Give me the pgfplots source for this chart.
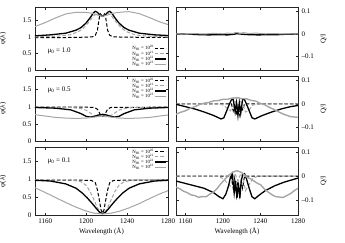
\documentclass[border=0pt]{standalone}
\usepackage{pgfplots}
\pgfplotsset{compat=1.18}
\usepackage{fontspec}
\setmainfont{Liberation Serif}
\definecolor{lg}{RGB}{165,165,165}
\pgfplotsset{
 base/.style={scale only axis, xmin=1150, xmax=1280, xtick={1160,1200,1240,1280},
   tick align=inside, tick pos=both, major tick length=2.5pt,
   axis line style={line width=0.6pt, black!85}, every tick/.style={black!85, line width=0.4pt},
   tick label style={font=\fontsize{7}{7}\selectfont},
   /pgf/number format/assume math mode=true, /pgf/number format/1000 sep={},
   label style={font=\fontsize{7}{7}\selectfont}},
 L/.style={base, width=133pt, ymin=0, ymax=1.9, ytick={0,0.5,1,1.5}, ylabel={φ(λ)},
   ylabel style={at={(axis description cs:-0.19,0.5)}}},
 R/.style={base, width=122pt, ymin=-0.16, ymax=0.12, ytick={-0.1,0,0.1},
   yticklabels={{–0.1},{0},{0.1}}, yticklabel pos=right, ytick pos=both, ylabel={Q/I}},
 leg/.style={legend style={draw=none, fill=none, inner sep=0pt, row sep=-1.4pt,
   font=\fontsize{4.8}{4.8}\selectfont, nodes={inner sep=0.4pt}},
   legend cell align=right, legend plot pos=right,
   legend image code/.code={\draw[##1] (0pt,0pt) -- (11pt,0pt);}},
 s20/.style={black, line width=1pt, dash pattern=on 3.5pt off 2pt},
 s21/.style={lg, line width=1pt, dash pattern=on 3.5pt off 2pt},
 s22/.style={black, line width=1.3pt},
 s23/.style={lg, line width=1pt},
}
\begin{document}
\begin{tikzpicture}
\path[use as bounding box] (0pt,0pt) rectangle (345pt,-242pt);
% ---------- top left mu=1.0
\begin{axis}[L, at={(35pt,-7pt)}, anchor=north west, height=63pt, xticklabels={}, leg,
  legend style={at={(0.99,0.04)}, anchor=south east}]
\addplot[s20] coordinates {(1150,0.98)(1180,0.98)(1200,0.99)(1206,1.0)(1209,1.05)(1211,1.2)(1212,1.4)(1213,1.6)(1214,1.69)(1215,1.65)(1216,1.61)(1217,1.65)(1218,1.69)(1219,1.6)(1220,1.4)(1221,1.2)(1223,1.05)(1226,1.0)(1240,0.99)(1280,0.98)};
\addlegendentry{N\textsubscript{HI} = 10\textsuperscript{20}}
\addplot[s21] coordinates {(1150,1.0)(1172,1.02)(1184,1.06)(1192,1.15)(1197,1.25)(1202,1.42)(1207,1.62)(1211,1.72)(1213,1.68)(1216,1.62)(1219,1.68)(1221,1.72)(1225,1.62)(1230,1.42)(1235,1.25)(1240,1.15)(1248,1.06)(1260,1.02)(1280,1.0)};
\addlegendentry{N\textsubscript{HI} = 10\textsuperscript{21}}
\addplot[s22] coordinates {(1150,1.03)(1165,1.06)(1180,1.11)(1190,1.2)(1195,1.28)(1200,1.42)(1204,1.58)(1207,1.72)(1209,1.77)(1211,1.74)(1213,1.67)(1216,1.62)(1219,1.67)(1221,1.74)(1223,1.77)(1225,1.72)(1228,1.58)(1232,1.42)(1237,1.28)(1242,1.2)(1252,1.11)(1267,1.06)(1280,1.04)};
\addlegendentry{N\textsubscript{HI} = 10\textsuperscript{22}}
\addplot[s23] coordinates {(1150,1.31)(1160,1.43)(1170,1.57)(1180,1.69)(1190,1.74)(1200,1.74)(1206,1.71)(1211,1.66)(1216,1.62)(1221,1.66)(1226,1.71)(1232,1.74)(1242,1.76)(1252,1.7)(1262,1.58)(1272,1.45)(1280,1.37)};
\addlegendentry{N\textsubscript{HI} = 10\textsuperscript{23}}
\node[anchor=west, font=\fontsize{7}{7}\selectfont] at (axis cs:1159,0.57) {μ\textsubscript{0} = 1.0};
\end{axis}
% ---------- top right
\begin{axis}[R, at={(176pt,-7pt)}, anchor=north west, height=63pt, xticklabels={}]
\addplot[s20] coordinates {(1150,0)(1280,0)};
\addplot[s21] coordinates {(1150,0)(1280,0)};
\addplot[s22] coordinates {(1150,0)(1165,-0.001)(1175,-0.003)(1185,-0.004)(1195,-0.003)(1205,-0.004)(1212,-0.001)(1216,0.003)(1220,-0.001)(1228,-0.003)(1238,-0.004)(1248,-0.003)(1258,-0.003)(1268,-0.001)(1280,0)};
\addplot[s23] coordinates {(1150,0.001)(1160,-0.001)(1170,0.002)(1180,0.0)(1190,0.003)(1200,0.001)(1205,0.004)(1210,0.002)(1214,0.007)(1218,0.003)(1222,0.006)(1228,0.002)(1235,0.004)(1245,0.001)(1255,0.002)(1265,0.0)(1280,0.001)};
\end{axis}
% ---------- middle left mu=0.5
\begin{axis}[L, at={(35pt,-76pt)}, anchor=north west, height=65pt, xticklabels={}, leg,
  legend style={at={(0.99,0.98)}, anchor=north east}]
\addplot[s20] coordinates {(1150,0.99)(1200,0.99)(1208,0.98)(1211,0.93)(1213,0.82)(1214.5,0.74)(1216,0.72)(1217.5,0.74)(1219,0.82)(1221,0.93)(1224,0.98)(1280,0.99)};
\addlegendentry{N\textsubscript{HI} = 10\textsuperscript{20}}
\addplot[s21] coordinates {(1150,0.99)(1185,0.98)(1195,0.95)(1200,0.9)(1205,0.8)(1209,0.72)(1212,0.72)(1216,0.75)(1220,0.72)(1223,0.72)(1227,0.8)(1232,0.9)(1237,0.95)(1247,0.98)(1280,0.99)};
\addlegendentry{N\textsubscript{HI} = 10\textsuperscript{21}}
\addplot[s22] coordinates {(1150,0.98)(1170,0.96)(1185,0.91)(1195,0.8)(1200,0.72)(1204,0.7)(1208,0.72)(1212,0.76)(1216,0.78)(1220,0.76)(1224,0.72)(1228,0.7)(1232,0.72)(1237,0.8)(1247,0.91)(1262,0.96)(1280,0.98)};
\addlegendentry{N\textsubscript{HI} = 10\textsuperscript{22}}
\addplot[s23] coordinates {(1150,0.77)(1160,0.73)(1170,0.69)(1180,0.67)(1190,0.66)(1200,0.67)(1208,0.7)(1216,0.73)(1224,0.7)(1232,0.67)(1242,0.66)(1252,0.67)(1262,0.69)(1272,0.73)(1280,0.76)};
\addlegendentry{N\textsubscript{HI} = 10\textsuperscript{23}}
\node[anchor=west, font=\fontsize{7}{7}\selectfont] at (axis cs:1159,1.5) {μ\textsubscript{0} = 0.5};
\end{axis}
% ---------- middle right
\begin{axis}[R, at={(176pt,-76pt)}, anchor=north west, height=65pt, xticklabels={}]
\addplot[s20] coordinates {(1150,0)(1209,0)(1211,-0.03)(1212.5,0.0)(1214.5,-0.05)(1216,-0.01)(1218,-0.05)(1219.5,-0.01)(1221,-0.025)(1223,0)(1280,0)};
\addplot[s21] coordinates {(1150,0)(1195,0)(1200,-0.005)(1205,-0.02)(1208,-0.03)(1211,0.0)(1213,0.01)(1216,-0.01)(1219,0.01)(1221,0.0)(1224,-0.035)(1227,-0.03)(1232,-0.005)(1237,0)(1280,0)};
\addplot[s22] coordinates {(1150,-0.002)(1160,-0.012)(1170,-0.022)(1180,-0.035)(1190,-0.05)(1198,-0.065)(1201,-0.06)(1204,-0.03)(1207,0.0)(1209,0.017)(1211,0.02)(1213,-0.035)(1214.5,0.005)(1216,-0.05)(1217.5,0.005)(1219,-0.04)(1221,0.02)(1223,0.018)(1225,0.0)(1228,-0.03)(1231,-0.06)(1234,-0.065)(1242,-0.05)(1252,-0.035)(1262,-0.022)(1272,-0.012)(1280,-0.007)};
\addplot[s23, line width=1.4pt] coordinates {(1150,-0.045)(1155,-0.036)(1160,-0.03)(1165,-0.019)(1170,-0.012)(1175,-0.003)(1180,0.003)(1185,0.006)(1190,0.013)(1195,0.014)(1200,0.02)(1205,0.02)(1210,0.025)(1216,0.026)(1220,0.022)(1225,0.022)(1230,0.015)(1235,0.012)(1240,0.002)(1245,-0.005)(1250,-0.016)(1255,-0.025)(1260,-0.036)(1265,-0.045)(1272,-0.055)(1280,-0.058)};
\end{axis}
% ---------- bottom left mu=0.1
\begin{axis}[L, at={(35pt,-147pt)}, anchor=north west, height=68pt, leg,
  legend style={at={(0.99,0.98)}, anchor=north east}, xlabel={Wavelength (Å)},
  xlabel style={yshift=2pt}]
\addplot[s20] coordinates {(1150,0.98)(1205,0.97)(1209,0.9)(1211,0.7)(1213,0.4)(1214.5,0.15)(1216,0.05)(1217.5,0.15)(1219,0.4)(1221,0.7)(1223,0.9)(1227,0.97)(1280,0.98)};
\addlegendentry{N\textsubscript{HI} = 10\textsuperscript{20}}
\addplot[s21] coordinates {(1150,0.99)(1185,0.98)(1195,0.93)(1200,0.83)(1204,0.65)(1208,0.4)(1211,0.2)(1214,0.07)(1216,0.05)(1218,0.07)(1221,0.2)(1224,0.4)(1228,0.65)(1232,0.83)(1237,0.93)(1247,0.98)(1280,0.99)};
\addlegendentry{N\textsubscript{HI} = 10\textsuperscript{21}}
\addplot[s22] coordinates {(1150,0.97)(1165,0.95)(1180,0.87)(1190,0.75)(1196,0.62)(1201,0.48)(1206,0.32)(1210,0.18)(1213,0.08)(1216,0.04)(1219,0.08)(1222,0.18)(1226,0.32)(1231,0.48)(1236,0.62)(1242,0.75)(1252,0.87)(1267,0.95)(1280,0.97)};
\addlegendentry{N\textsubscript{HI} = 10\textsuperscript{22}}
\addplot[s23] coordinates {(1150,0.76)(1160,0.63)(1170,0.49)(1180,0.35)(1190,0.22)(1200,0.11)(1208,0.05)(1216,0.03)(1224,0.05)(1232,0.1)(1242,0.2)(1252,0.32)(1262,0.46)(1272,0.59)(1280,0.68)};
\addlegendentry{N\textsubscript{HI} = 10\textsuperscript{23}}
\node[anchor=west, font=\fontsize{7}{7}\selectfont] at (axis cs:1159,1.5) {μ\textsubscript{0} = 0.1};
\end{axis}
% ---------- bottom right
\begin{axis}[R, at={(176pt,-147pt)}, anchor=north west, height=68pt, xlabel={Wavelength (Å)},
  xlabel style={yshift=2pt}]
\addplot[s20] coordinates {(1150,0)(1209,0)(1211,-0.05)(1212.5,-0.01)(1214.5,-0.08)(1216,-0.02)(1218,-0.08)(1219.5,-0.02)(1221,-0.05)(1223,0)(1280,0)};
\addplot[s21] coordinates {(1150,0)(1195,0)(1200,-0.01)(1205,-0.03)(1208,-0.04)(1211,0.0)(1213,0.01)(1216,-0.02)(1219,0.01)(1221,0.0)(1224,-0.06)(1227,-0.04)(1232,-0.01)(1237,0)(1280,0)};
\addplot[s22] coordinates {(1150,-0.02)(1160,-0.03)(1170,-0.04)(1180,-0.05)(1190,-0.068)(1196,-0.085)(1200,-0.093)(1203,-0.075)(1206,-0.04)(1208,-0.005)(1210,0.01)(1212,-0.07)(1213.5,-0.02)(1215,-0.09)(1216.5,-0.03)(1218,-0.09)(1219.5,-0.02)(1221,0.005)(1223,0.01)(1225,-0.01)(1228,-0.05)(1231,-0.085)(1234,-0.093)(1238,-0.08)(1245,-0.06)(1255,-0.04)(1265,-0.025)(1280,-0.008)};
\addplot[s23, line width=1.4pt] coordinates {(1150,-0.045)(1154,-0.052)(1158,-0.062)(1162,-0.068)(1166,-0.077)(1170,-0.08)(1174,-0.087)(1178,-0.084)(1182,-0.085)(1186,-0.074)(1190,-0.065)(1194,-0.05)(1197,-0.035)(1200,-0.022)(1204,-0.005)(1207,0.006)(1210,0.015)(1213,0.02)(1215,0.022)(1218,0.018)(1220,0.015)(1223,0.004)(1226,-0.005)(1230,-0.012)(1233,-0.02)(1237,-0.03)(1240,-0.035)(1244,-0.052)(1248,-0.065)(1252,-0.076)(1256,-0.084)(1260,-0.086)(1264,-0.088)(1268,-0.08)(1272,-0.072)(1276,-0.06)(1280,-0.05)};
\end{axis}
\end{tikzpicture}
\end{document}
